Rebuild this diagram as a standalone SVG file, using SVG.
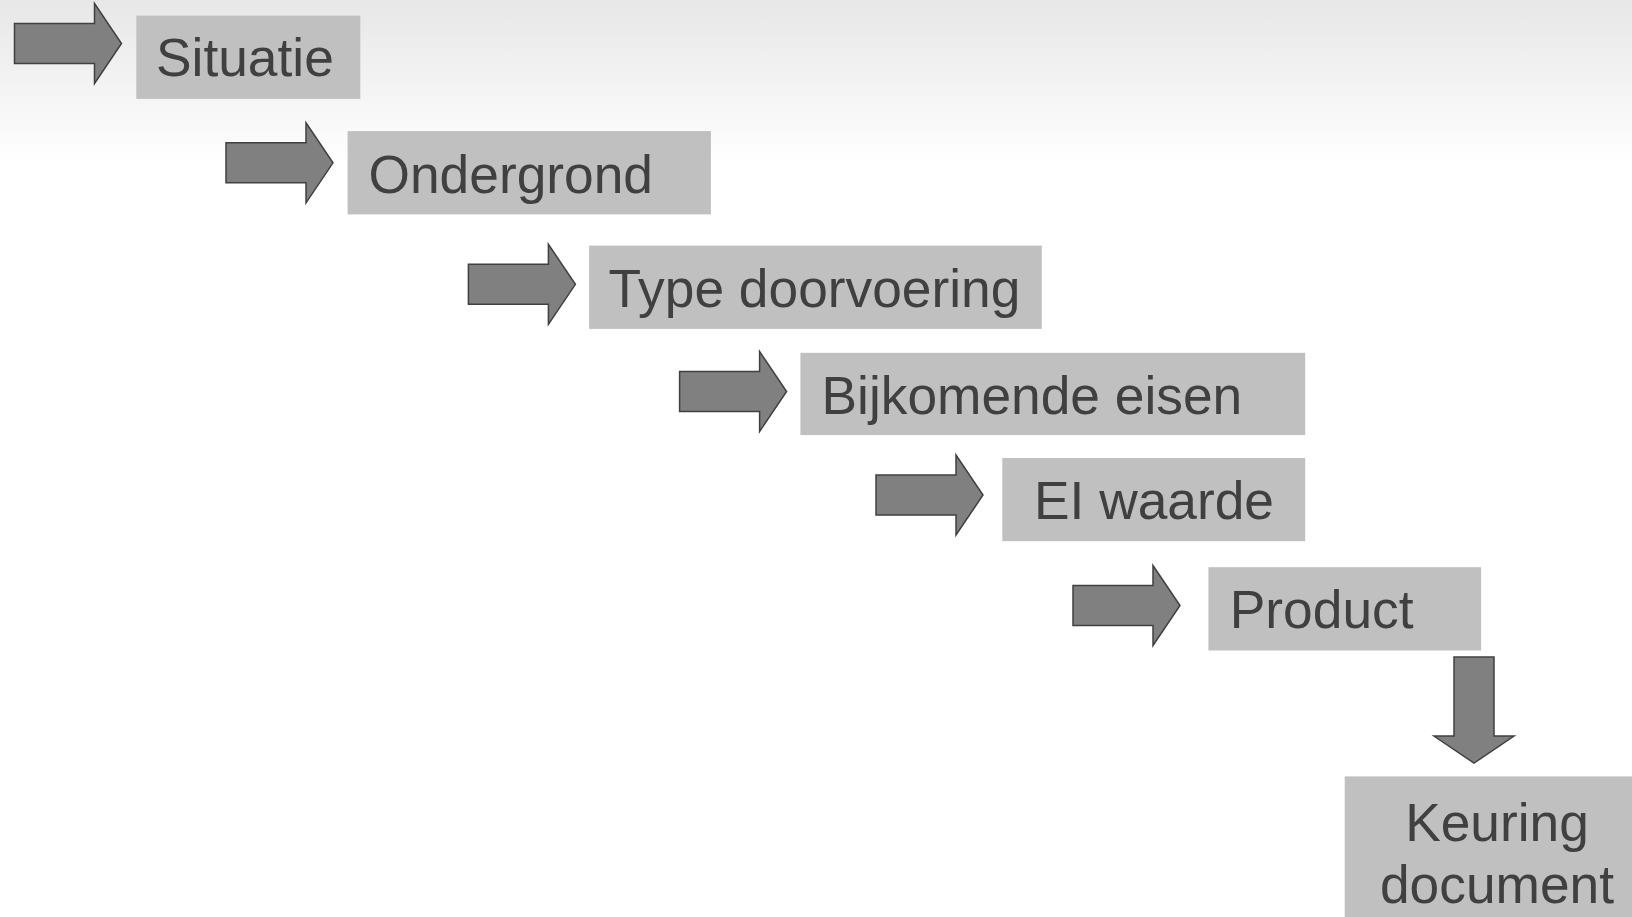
<svg xmlns="http://www.w3.org/2000/svg" width="1632" height="917" viewBox="0 0 1632 917">
<defs>
<linearGradient id="bg" x1="0" y1="0" x2="0" y2="165" gradientUnits="userSpaceOnUse">
<stop offset="0" stop-color="#e7e7e7"/>
<stop offset="1" stop-color="#ffffff"/>
</linearGradient>
<path id="arrowR" d="M0,20 H80 V0 L107,40 L80,80 V60 H0 Z"/>
</defs>
<style>
.box{fill:#c0c0c0;}
.arrow{fill:#808080;stroke:#404040;stroke-width:1.5;stroke-linejoin:miter;}
.lbl{font-family:"Liberation Sans",Arial,sans-serif;font-size:53.3px;fill:#404040;}
</style>
<rect x="0" y="0" width="1632" height="917" fill="url(#bg)"/>
<g id="connectors">
<use href="#arrowR" class="arrow" transform="translate(14.5,3.5)"/>
<use href="#arrowR" class="arrow" transform="translate(226,122.8)"/>
<use href="#arrowR" class="arrow" transform="translate(468.4,244.3)"/>
<use href="#arrowR" class="arrow" transform="translate(679.6,351.5)"/>
<use href="#arrowR" class="arrow" transform="translate(876,455)"/>
<use href="#arrowR" class="arrow" transform="translate(1073,565.5)"/>
<path class="arrow" d="M1454,657 H1494 V736 H1514 L1474,763 L1434,736 H1454 Z"/>
</g>
<g id="situatie">
<rect class="box" x="136.3" y="15.6" width="224" height="83.3"/>
<text class="lbl" x="156" y="75.5">Situatie</text>
</g>
<g id="ondergrond">
<rect class="box" x="347.6" y="131.1" width="363.3" height="83.3"/>
<text class="lbl" x="368.5" y="192.5">Ondergrond</text>
</g>
<g id="type-doorvoering">
<rect class="box" x="589.1" y="245.6" width="452.7" height="83.3"/>
<text class="lbl" x="608.5" y="306.8">Type doorvoering</text>
</g>
<g id="bijkomende-eisen">
<rect class="box" x="800.4" y="352.8" width="504.8" height="82.3"/>
<text class="lbl" x="821.5" y="413.5">Bijkomende eisen</text>
</g>
<g id="ei-waarde">
<rect class="box" x="1002.3" y="458" width="302.9" height="83.2"/>
<text class="lbl" x="1154" y="519" text-anchor="middle">EI waarde</text>
</g>
<g id="product">
<rect class="box" x="1208.4" y="567.2" width="272.7" height="83.3"/>
<text class="lbl" x="1229.8" y="628.3">Product</text>
</g>
<g id="keuring-document">
<rect class="box" x="1344.7" y="776.4" width="305" height="160"/>
<text class="lbl" x="1497" y="841" text-anchor="middle">Keuring</text>
<text class="lbl" x="1497" y="903.4" text-anchor="middle">document</text>
</g>
</svg>
